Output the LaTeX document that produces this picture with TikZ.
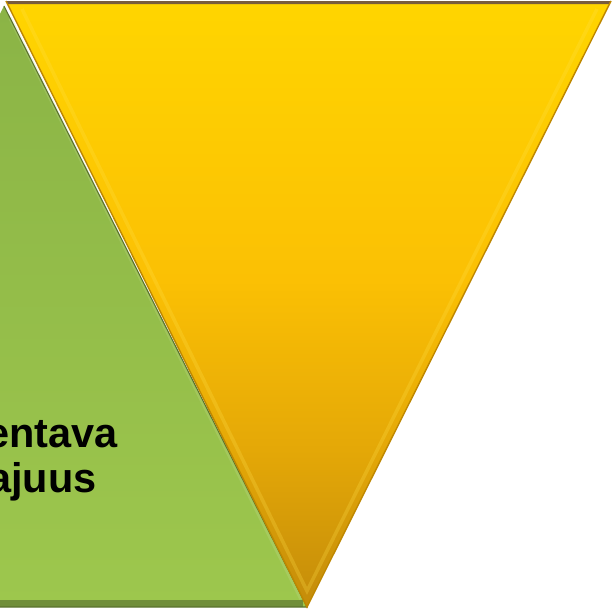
\documentclass[tikz,border=0pt]{standalone}
\usepackage{fontspec}
\setmainfont{Liberation Sans}
\usetikzlibrary{calc}
\definecolor{greentop}{RGB}{139,180,70}
\definecolor{greenmid}{RGB}{141,184,67}
\definecolor{greenbot}{RGB}{157,199,77}
\definecolor{greenedge}{RGB}{112,142,58}
\definecolor{yellowtop}{RGB}{255,213,0}
\definecolor{yellowmid}{RGB}{251,192,4}
\definecolor{yellowlow}{RGB}{228,168,7}
\definecolor{yellowbot}{RGB}{196,140,10}
\definecolor{yellowedge}{RGB}{190,135,0}
\definecolor{topedge}{RGB}{120,92,62}
\pgfdeclareverticalshading{yellowfade}{100bp}{color(0bp)=(yellowbot); color(25bp)=(yellowbot);
  color(38bp)=(yellowlow); color(52bp)=(yellowmid); color(75bp)=(yellowtop); color(100bp)=(yellowtop)}

\begin{document}
\begin{tikzpicture}[x=0.02cm, y=-0.02cm,
  every node/.append style={inner sep=0pt, font=\bfseries\fontsize{23.6}{25.5}\selectfont}]
  \useasboundingbox (0,0) rectangle (613,612);
  \clip (0,0) rectangle (613,612);
  \coordinate (G1) at (4,6);
  \coordinate (G2) at (307,607);
  \coordinate (G3) at (-300,607);
  \coordinate (Y1) at (6,1);
  \coordinate (Y2) at (611,1);
  \coordinate (Y3) at (307,607);
  % green triangle
  \shade[top color=greentop, middle color=greenmid, bottom color=greenbot] (G1) -- (G2) -- (G3) -- cycle;
  \draw[greenbot!60!white, line width=2pt, opacity=.25] ($(G1)+(6,12)$) -- ($(G2)+(-6,-8)$);
  \fill[greenedge] (-300,600) rectangle (303,607);
  \draw[greenedge!80!black, line width=.6pt] (G3) -- (G2) -- (G1);
  % yellow triangle
  \shade[shading=yellowfade] (Y1) -- (Y2) -- (Y3) -- cycle;
  \draw[yellowtop!70!white, line width=2pt, opacity=.25] ($(Y1)+(16,8)$) -- ($(Y3)+(0,-16)$) -- ($(Y2)+(-14,8)$);
  \fill[topedge] (Y1) -- (Y2) -- (609,4) -- (8,4) -- cycle;
  \draw[yellowedge, line width=.8pt] (Y1) -- (Y3) -- (Y2);
  % labels
  \node[anchor=base east] (line1) at (118,447) {entava};
  \node[anchor=base east] (line2) at (97,492) {ajuus};
\end{tikzpicture}
\end{document}
